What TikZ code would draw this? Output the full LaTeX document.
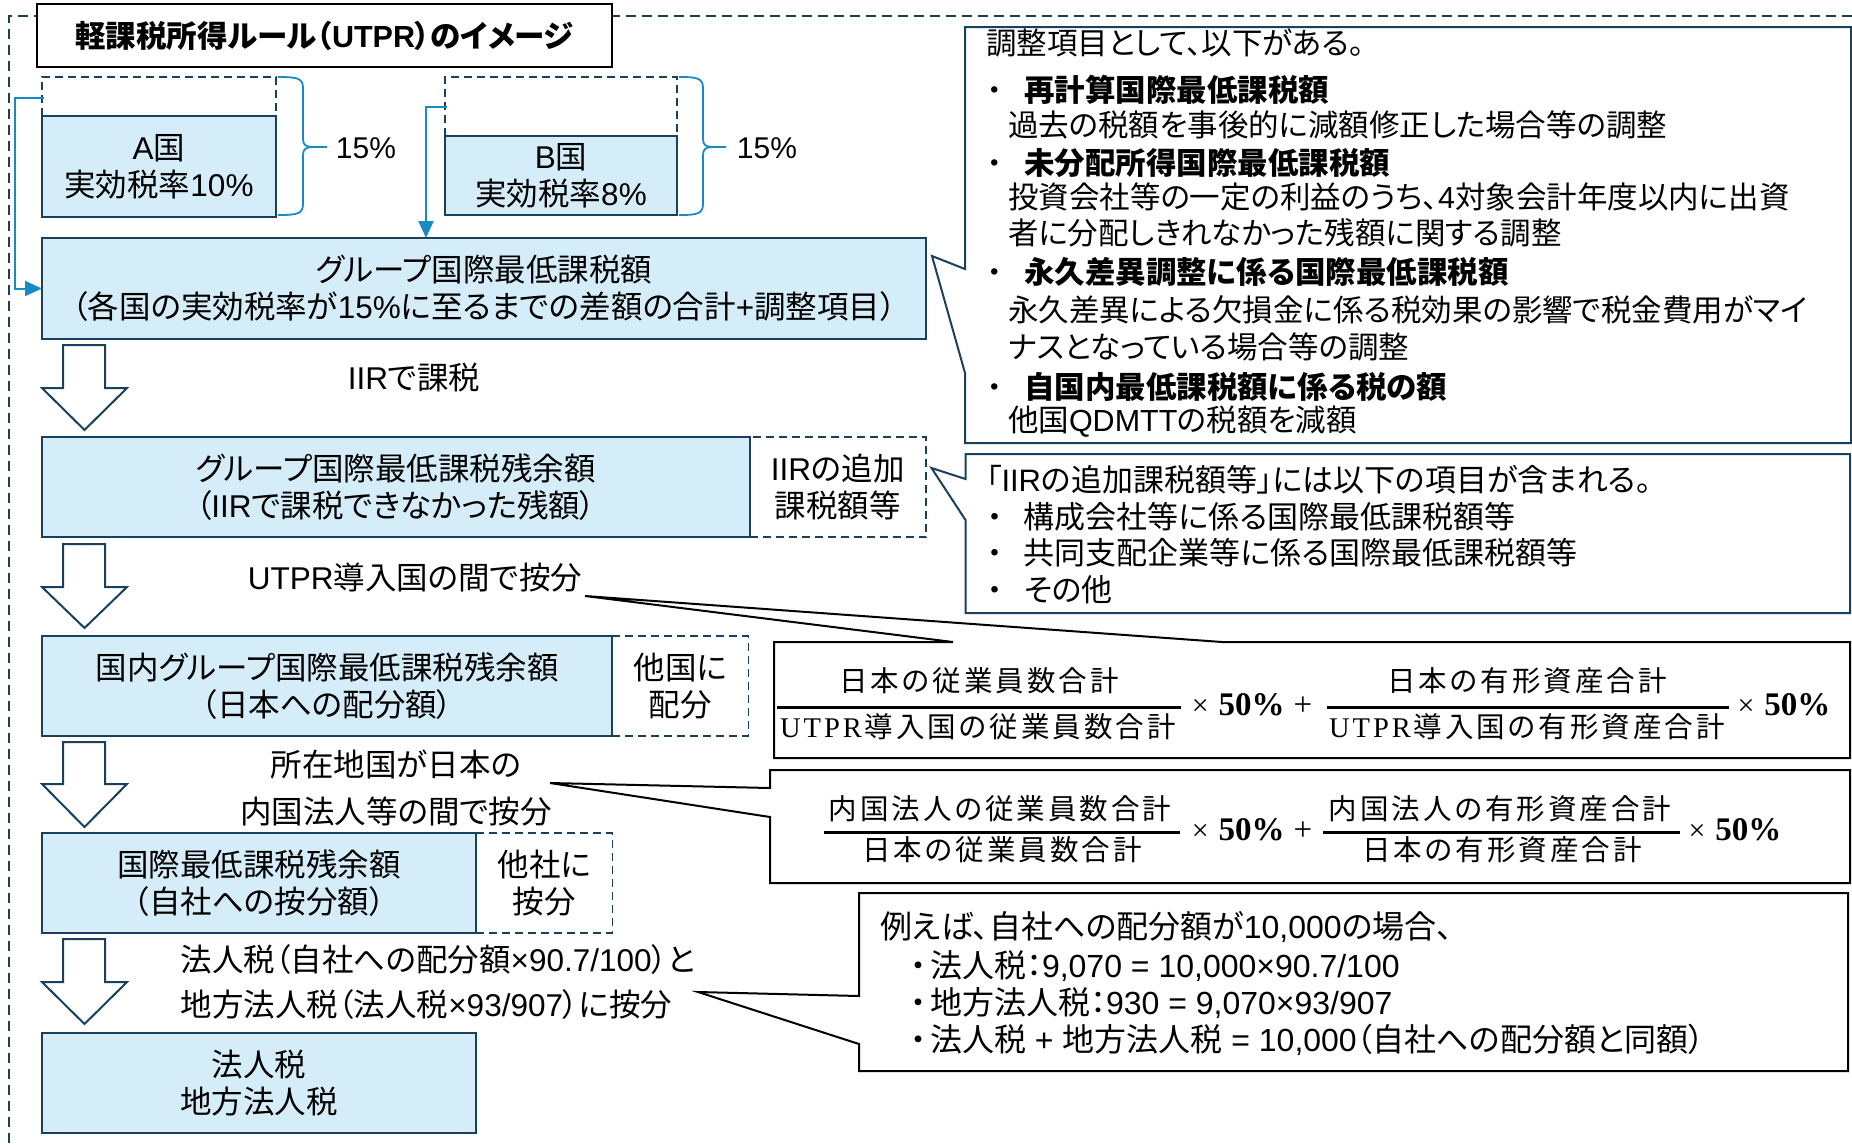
\documentclass[tikz,border=0pt]{standalone}
\usepackage{fontspec}
\setmainfont{Noto Sans CJK JP}[CharacterWidth=AlternateProportional]
\newfontfamily\lsans{Liberation Sans}
\newfontfamily\lserif{Liberation Serif}
\usetikzlibrary{arrows.meta}
\definecolor{navy}{RGB}{26,64,94}
\definecolor{lightb}{RGB}{212,237,248}
\definecolor{cblue}{RGB}{24,138,196}
\newcommand\La[1]{{\lsans #1}}
\newcommand\tms{{\lsans ×}}
\newcommand\spc[1]{\spcfirst#1\relax}
\def\spcfirst#1{#1\spcnext}
\def\spcnext#1{\ifx\relax#1\else\hskip3pt\relax#1\expandafter\spcnext\fi}
\newcommand\bul[2]{\makebox[#1pt][l]{\makebox[#2pt]{・}}}
\newcommand\mulfifty{{\lserif\fontsize{30}{30}\selectfont ×}\hspace{10pt}{\lserif\bfseries\fontsize{33}{33}\selectfont 50\%}}
\newcommand\plusf{\hspace{9pt}{\lserif\fontsize{33}{33}\selectfont +}}
\newcommand\dnarrow[3]{\draw[blk] (63,#1) -- (105,#1) -- (105,#2) -- (127,#2) -- (84.5,#3) -- (42,#2) -- (63,#2) -- cycle;}
\begin{document}
\begin{tikzpicture}[x=1pt,y=-1pt,
  every node/.style={inner sep=0pt, outer sep=0pt},
  fs/.style={font=\fontsize{31.5}{37}\selectfont},
  solidbox/.style={draw=navy, fill=lightb, line width=2pt, align=center, fs},
  dashbox/.style={draw=navy, line width=1.6pt, dash pattern=on 8pt off 5pt, align=center, fs},
  dashline/.style={draw=navy, line width=1.6pt, dash pattern=on 8pt off 5pt},
  conn/.style={draw=cblue, line width=2pt},
  brc/.style={draw=cblue, line width=1.8pt},
  blk/.style={draw=navy, fill=white, line width=2pt, line join=miter},
  cl/.style={draw=navy, fill=white, line width=2pt, line join=miter},
  fl/.style={draw=black, fill=white, line width=2pt, line join=miter},
  txt1/.style={font=\fontsize{30.5}{37}\selectfont, align=left, anchor=west},
  txt2/.style={font=\fontsize{31}{37}\selectfont, align=left, anchor=west},
  txt4/.style={font=\fontsize{32}{37}\selectfont, align=left, anchor=west},
  frac/.style={font=\fontsize{28.5}{28.5}\selectfont},
  tip/.style={-{Triangle[length=17pt,width=15pt]}}
]
\useasboundingbox (0,0) rectangle (1852,1144);
% outer dashed frame
\draw[navy, line width=1.6pt, dash pattern=on 10pt off 6pt] (1852,16) -- (9,16) -- (9,1144);
% title
\node[draw=black, fill=white, line width=2pt, minimum width=575, minimum height=63,
      font=\fontsize{30.5}{31}\selectfont\bfseries] (title) at (324.5,35.5) {軽課税所得ルール（{\lsans\bfseries UTPR}）のイメージ};

% country boxes
\draw[dashline] (42,116) -- (42,77) -- (276,77) -- (276,116);
\draw[dashline] (445,136) -- (445,77) -- (677,77) -- (677,136);
\node[solidbox, minimum width=234, minimum height=101] (A) at (159,166.5) {\La{A}国\\実効税率\La{10\%}};
\node[solidbox, minimum width=232, minimum height=79] (B) at (561,175.5) {\La{B}国\\実効税率\La{8\%}};

% braces
\draw[brc] (278,77) .. controls (297,77) and (303,78) .. (303,88) -- (303,139) .. controls (303,145) and (306,147) .. (313,147) -- (327,147);
\draw[brc] (313,147) .. controls (306,147) and (303,149) .. (303,155) -- (303,204) .. controls (303,214) and (297,215) .. (278,215);
\draw[brc] (679,77) .. controls (697,77) and (703,78) .. (703,88) -- (703,139) .. controls (703,145) and (706,147) .. (713,147) -- (726,147);
\draw[brc] (713,147) .. controls (706,147) and (703,149) .. (703,155) -- (703,204) .. controls (703,214) and (697,215) .. (679,215);
\node[font=\fontsize{30}{30}\selectfont\lsans] (pA) at (366,148) {15\%};
\node[font=\fontsize{30}{30}\selectfont\lsans] (pB) at (767,148) {15\%};

% group box
\node[solidbox, minimum width=884, minimum height=101] (g) at (484,288.5) {グループ国際最低課税額\\（各国の実効税率が\La{15\%}に至るまでの差額の合計\La{+}調整項目）};

% blue connectors
\coordinate (aS) at (44,98);
\coordinate (bS) at (447,107);
\coordinate (bT) at (426,0);
\draw[conn, tip] (aS) -- (15,98) |- (g.west);
\draw[conn, tip] (bS) -| (bT |- g.north);

% flow
\dnarrow{345}{388}{430}
\node[fs] (t1) at (414,378) {\La{IIR}で課税};
\node[dashbox, minimum width=176.5, minimum height=100] (d2) at (837.75,487) {\La{IIR}の追加\\課税額等};
\node[solidbox, minimum width=707.5, minimum height=100] (r2) at (395.75,487) {グループ国際最低課税残余額\\（\La{IIR}で課税できなかった残額）};

\dnarrow{544}{587}{628}
\node[fs] (t2) at (415,578) {\La{UTPR}導入国の間で按分};
\node[dashbox, minimum width=135.9, minimum height=100] (d3) at (680.35,686) {他国に\\配分};
\node[solidbox, minimum width=570.4, minimum height=100] (r3) at (327.2,686) {国内グループ国際最低課税残余額\\（日本への配分額）};

\dnarrow{742}{784}{827}
\node[font=\fontsize{31.5}{47}\selectfont, align=center] (t3) at (396,788) {所在地国が日本の\\内国法人等の間で按分};
\node[dashbox, minimum width=136, minimum height=100] (d4) at (544.4,883) {他社に\\按分};
\node[solidbox, minimum width=434.4, minimum height=100] (r4) at (259.2,883) {国際最低課税残余額\\（自社への按分額）};

\dnarrow{939}{982}{1024}
\node[font=\fontsize{31.5}{45}\selectfont, align=left, anchor=west] (t4) at (180.6,982.5) {法人税（自社への配分額\La{×90.7/100}）と\\地方法人税（法人税\La{×93/907}）に按分};
\node[solidbox, minimum width=434.4, minimum height=100] (r5) at (259.2,1083) {法人税\\地方法人税};

% callout 1
\node[minimum width=886, minimum height=416] (c1) at (1408,235) {};
\coordinate (c1tip) at (932,256);
\draw[cl] (c1.north west) -- (c1.north east) -- (c1.south east) -- (c1.south west) -- (965,373) -- (c1tip) -- (965,269) -- cycle;
\node[txt1] (c1a) at (986,43) {調整項目として、以下がある。};
\node[txt1] (c1b) at (980,90) {\bul{44}{30}\textbf{再計算国際最低課税額}};
\node[txt1] (c1c) at (1008,125) {過去の税額を事後的に減額修正した場合等の調整};
\node[txt1] (c1d) at (980,163) {\bul{44}{30}\textbf{未分配所得国際最低課税額}};
\node[txt1] (c1e) at (1008,197) {投資会社等の一定の利益のうち、\La{4}対象会計年度以内に出資};
\node[txt1] (c1f) at (1008,233) {者に分配しきれなかった残額に関する調整};
\node[txt1] (c1g) at (980,272) {\bul{44}{30}\textbf{永久差異調整に係る国際最低課税額}};
\node[txt1] (c1h) at (1008,310) {永久差異による欠損金に係る税効果の影響で税金費用がマイ};
\node[txt1] (c1i) at (1008,347) {ナスとなっている場合等の調整};
\node[txt1] (c1j) at (980,387) {\bul{44}{30}\textbf{自国内最低課税額に係る税の額}};
\node[txt1] (c1k) at (1008,422) {他国\La{QDMTT}の税額を減額};

% callout 2
\node[minimum width=884.5, minimum height=159] (c2) at (1407.75,533.5) {};
\coordinate (c2tip) at (931.5,468);
\draw[cl] (c2.north west) -- (c2.north east) -- (c2.south east) -- (c2.south west) -- (965.5,520) -- (c2tip) -- (965.5,479) -- cycle;
\node[txt2] (c2a) at (986,480) {「\La{IIR}の追加課税額等」には以下の項目が含まれる。};
\node[txt2] (c2b) at (980,517) {\bul{44}{30}構成会社等に係る国際最低課税額等};
\node[txt2] (c2c) at (980,553) {\bul{44}{30}共同支配企業等に係る国際最低課税額等};
\node[txt2] (c2d) at (980,590) {\bul{44}{30}その他};

% formula box 1
\node[minimum width=1076, minimum height=116] (fb1) at (1312,700) {};
\coordinate (fb1tip) at (585,596);
\draw[fl] (fb1.north west) -- (953,642) -- (fb1tip) -- (1222,642) -- (fb1.north east) -- (fb1.south east) -- (fb1.south west) -- cycle;
\node[frac] (f1n1) at (979,681) {\spc{日本の従業員数合計}};
\node[frac] (f1d1) at (978,727) {{\lserif\spc{UTPR}}\hskip3pt\spc{導入国の従業員数合計}};
\draw[line width=3pt] (777,707) -- (1181,707);
\node (f1m1) at (1252,705) {\mulfifty\plusf};
\node[frac] (f1n2) at (1527,681) {\spc{日本の有形資産合計}};
\node[frac] (f1d2) at (1527,727) {{\lserif\spc{UTPR}}\hskip3pt\spc{導入国の有形資産合計}};
\draw[line width=3pt] (1327,707) -- (1729,707);
\node (f1m2) at (1784,705) {\mulfifty};

% formula box 2
\node[minimum width=1080, minimum height=113] (fb2) at (1310,826.5) {};
\coordinate (fb2tip) at (550,783);
\draw[fl] (fb2.north west) -- (fb2.north east) -- (fb2.south east) -- (fb2.south west) -- (770,817) -- (fb2tip) -- (770,788) -- cycle;
\node[frac] (f2n1) at (1000,809) {\spc{内国法人の従業員数合計}};
\node[frac] (f2d1) at (1002,850) {\spc{日本の従業員数合計}};
\draw[line width=3pt] (824,832) -- (1180,832);
\node (f2m1) at (1252,830) {\mulfifty\plusf};
\node[frac] (f2n2) at (1500,809) {\spc{内国法人の有形資産合計}};
\node[frac] (f2d2) at (1502,850) {\spc{日本の有形資産合計}};
\draw[line width=3pt] (1323,832) -- (1680,832);
\node (f2m2) at (1735,830) {\mulfifty};

% callout 4
\node[minimum width=989, minimum height=178] (c4) at (1353.5,982) {};
\coordinate (c4tip) at (698,992);
\draw[fl] (c4.north west) -- (c4.north east) -- (c4.south east) -- (c4.south west) -- (859,1044) -- (c4tip) -- (859,996) -- cycle;
\node[txt4] (c4a) at (880,927) {例えば、自社への配分額が\La{10,000}の場合、};
\node[txt4] (c4b) at (912,966) {\bul{18}{12}法人税：\La{9,070 = 10,000×90.7/100}};
\node[txt4] (c4c) at (912,1003) {\bul{18}{12}地方法人税：\La{930 = 9,070×93/907}};
\node[txt4] (c4d) at (912,1040) {\bul{18}{12}法人税\La{ + }地方法人税\La{ = 10,000}（自社への配分額と同額）};
\end{tikzpicture}
\end{document}
